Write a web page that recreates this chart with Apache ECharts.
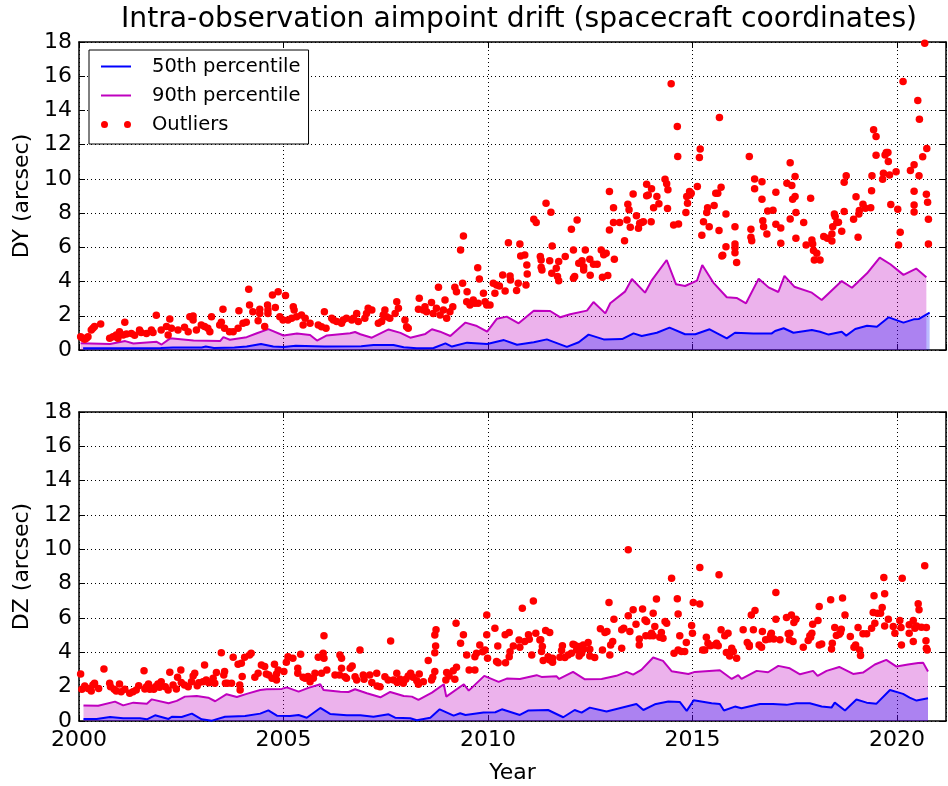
<!DOCTYPE html>
<html>
<head>
<meta charset="utf-8">
<title>Intra-observation aimpoint drift</title>
<script src="https://cdn.jsdelivr.net/npm/echarts@6/dist/echarts.min.js"></script>
<style>
  html, body { margin: 0; padding: 0; background: #ffffff; }
  #chart { width: 948px; height: 786px; }
</style>
</head>
<body>
<div id="chart"></div>
<script>
// Tick labels
const yearTicks = [2000, 2005, 2010, 2015, 2020];
const driftTicks = [0, 2, 4, 6, 8, 10, 12, 14, 16, 18];

// DY: percentiles of the drift per time bin, [decimal year, arcsec]
const dyP50 = [
  [2000.1,0.1],[2001.0,0.1],[2002.0,0.12],[2002.3,0.15],[2003.0,0.15],[2003.1,0.2],[2003.3,0.12],[2003.8,0.15],
  [2004.1,0.2],[2004.45,0.35],[2004.75,0.2],[2005.0,0.18],[2005.3,0.25],[2006.0,0.2],[2006.9,0.22],[2007.2,0.29],
  [2007.69,0.29],[2007.94,0.16],[2008.26,0.1],[2008.67,0.12],[2008.96,0.39],[2009.12,0.2],[2009.49,0.43],[2009.98,0.35],
  [2010.39,0.58],[2010.71,0.31],[2011.12,0.45],[2011.44,0.62],[2011.93,0.18],[2012.22,0.45],[2012.46,0.9],[2012.83,0.62],
  [2013.28,0.64],[2013.56,0.97],[2013.76,0.82],[2014.13,1.01],[2014.44,1.31],[2014.82,0.92],[2015.07,0.92],[2015.42,1.21],
  [2015.84,0.68],[2016.04,1.01],[2016.49,0.96],[2016.94,0.97],[2017.02,1.11],[2017.23,1.27],[2017.47,1.01],[2017.92,1.17],
  [2018.12,1.07],[2018.33,0.9],[2018.65,1.07],[2018.76,0.84],[2018.98,1.23],[2019.27,1.42],[2019.51,1.36],[2019.8,1.91],
  [2020.16,1.6],[2020.41,1.79],[2020.53,1.81],[2020.8,2.18]
];
const dyP90 = [
  [2000.04,0.4],[2000.76,0.35],[2001.13,0.52],[2001.33,0.38],[2001.9,0.48],[2002.02,0.32],[2002.23,0.68],[2002.8,0.55],
  [2003.45,0.52],[2003.53,0.75],[2003.69,0.6],[2004.1,0.75],[2004.35,0.98],[2004.63,1.22],[2005.0,0.85],[2005.33,0.97],
  [2005.65,0.88],[2005.82,0.55],[2006.06,0.85],[2006.63,0.98],[2006.75,1.05],[2006.88,0.92],[2007.16,0.72],[2007.57,1.2],
  [2007.86,1.0],[2008.1,0.72],[2008.47,0.94],[2008.63,1.21],[2008.83,1.07],[2009.08,0.82],[2009.45,1.6],[2009.73,1.4],
  [2009.98,1.07],[2010.22,1.83],[2010.46,1.95],[2010.75,1.56],[2011.12,2.3],[2011.52,2.28],[2011.77,1.91],[2012.01,2.09],
  [2012.42,2.3],[2012.58,2.8],[2012.87,2.14],[2012.99,2.73],[2013.35,3.41],[2013.52,4.15],[2013.84,3.35],[2014.0,4.05],
  [2014.37,5.26],[2014.6,3.84],[2014.82,3.74],[2015.11,4.05],[2015.24,4.97],[2015.51,3.94],[2015.84,3.08],[2016.08,3.04],
  [2016.31,2.73],[2016.62,4.17],[2016.86,3.66],[2017.1,3.39],[2017.25,4.33],[2017.49,3.7],[2017.92,3.35],[2018.16,2.92],
  [2018.65,4.03],[2018.9,3.64],[2019.27,4.48],[2019.58,5.4],[2019.84,5.01],[2020.16,4.39],[2020.47,4.76],[2020.72,4.25]
];
const dyOutliers = [
  [2000.04,0.78],[2000.10,0.68],[2000.14,0.63],[2000.18,0.68],[2000.22,0.78],[2000.30,1.17],[2000.34,1.27],[2000.38,1.37],
  [2000.53,1.52],[2000.75,0.68],[2000.83,0.78],[2000.91,0.88],[2000.95,0.68],[2000.99,1.07],[2001.08,0.88],[2001.12,1.62],
  [2001.16,0.94],[2001.28,0.97],[2001.36,0.86],[2001.48,1.17],[2001.52,1.02],[2001.65,0.97],[2001.77,1.17],[2001.81,1.02],
  [2001.89,2.03],[2002.01,1.17],[2002.14,1.37],[2002.18,0.88],[2002.22,1.81],[2002.26,1.27],[2002.42,1.17],[2002.58,1.33],
  [2002.67,1.07],[2002.71,1.95],[2002.79,1.99],[2002.79,1.75],[2002.87,1.17],[2002.99,1.46],[2003.07,1.37],[2003.15,1.27],
  [2003.20,1.07],[2003.24,1.95],[2003.44,1.46],[2003.48,1.62],[2003.52,2.38],[2003.56,1.27],[2003.68,1.07],[2003.77,1.07],
  [2003.89,1.27],[2003.91,2.30],[2004.01,1.56],[2004.09,1.62],[2004.15,3.55],[2004.17,2.63],[2004.25,2.24],[2004.38,1.71],
  [2004.42,2.38],[2004.42,2.14],[2004.54,1.37],[2004.61,2.63],[2004.62,2.34],[2004.62,2.14],[2004.73,3.22],[2004.80,2.49],
  [2004.87,3.41],[2004.91,1.95],[2004.99,1.75],[2005.05,3.18],[2005.11,1.75],
  [2005.20,1.85],[2005.24,2.53],[2005.26,2.34],[2005.32,1.95],[2005.44,2.05],[2005.48,1.46],[2005.53,1.85],[2005.65,1.56],
  [2005.85,1.46],[2005.93,1.36],[2006.00,2.24],[2006.04,1.27],[2006.18,1.85],[2006.22,1.75],[2006.30,1.66],[2006.42,1.56],
  [2006.46,1.75],[2006.54,1.85],[2006.67,1.75],[2006.71,1.85],[2006.79,2.14],[2006.83,1.66],[2006.99,1.85],[2007.03,2.14],
  [2007.07,2.44],[2007.16,2.34],[2007.32,1.56],[2007.40,1.66],[2007.44,2.05],[2007.48,2.34],[2007.52,1.95],[2007.60,1.85],
  [2007.73,2.14],[2007.77,2.82],[2007.81,2.44],[2007.97,1.75],[2008.01,1.36],[2008.05,1.27],[2008.30,2.38],[2008.32,3.02],
  [2008.42,2.34],[2008.46,2.53],[2008.50,2.24],[2008.62,2.77],[2008.66,2.14],[2008.74,2.44],[2008.79,3.66],[2008.83,2.05],
  [2008.91,2.34],[2008.95,2.92],[2008.99,1.85],[2009.07,2.24],[2009.14,2.53],[2009.19,3.66],[2009.23,3.41],[2009.33,5.84],
  [2009.38,3.90],[2009.40,6.66],[2009.48,2.82],[2009.49,3.41],[2009.56,2.63],[2009.64,2.92],[2009.68,2.73],[2009.75,4.81],
  [2009.76,2.73],[2009.79,4.15],[2009.89,3.31],[2009.93,2.82],[2009.97,2.63],[2010.05,2.63],[2010.13,3.90],[2010.17,3.31],
  [2010.21,3.80],[2010.28,3.74],[2010.36,4.38],[2010.42,3.45],[2010.50,6.27],[2010.54,4.32],[2010.55,4.09],[2010.70,3.47],
  [2010.74,3.90],[2010.78,6.20],[2010.80,5.49],[2010.90,5.55],[2010.95,4.97],[2010.96,4.44],[2010.93,3.80],
  [2011.12,7.64],[2011.18,7.45],[2011.28,5.46],[2011.30,5.26],[2011.30,4.83],[2011.32,4.68],[2011.42,8.58],[2011.51,5.22],
  [2011.54,8.05],[2011.57,6.08],[2011.56,4.48],[2011.67,4.78],[2011.70,4.29],[2011.73,4.05],[2011.73,5.17],[2011.89,5.46],
  [2012.04,7.06],[2012.09,5.85],[2012.12,4.29],[2012.09,4.19],[2012.18,7.60],[2012.22,5.07],[2012.30,5.22],[2012.34,4.87],
  [2012.38,5.85],[2012.34,4.68],[2012.49,5.30],[2012.50,4.37],[2012.58,5.01],[2012.67,5.01],[2012.77,5.85],[2012.80,4.25],
  [2012.83,5.56],[2012.89,5.65],[2012.93,4.35],[2012.97,7.02],[2012.97,9.26],[2013.07,8.32],[2013.07,7.45],[2013.09,5.30],
  [2013.22,7.45],[2013.34,6.39],[2013.40,7.60],[2013.42,8.52],[2013.45,8.19],[2013.48,7.17],[2013.55,9.12],[2013.63,7.84],
  [2013.68,7.12],[2013.71,7.41],[2013.76,7.45],[2013.80,7.50],
  [2013.88,9.69],[2013.88,9.01],[2013.92,9.06],[2013.99,7.50],[2014.00,9.43],[2014.05,8.32],[2014.13,8.97],[2014.18,8.54],
  [2014.33,9.98],[2014.37,9.71],[2014.40,9.36],[2014.39,8.27],[2014.48,15.56],[2014.54,7.31],[2014.63,13.06],[2014.66,7.37],
  [2014.64,11.31],[2014.84,8.03],[2014.86,8.97],[2014.88,8.58],[2014.93,9.26],[2014.94,9.06],[2014.97,9.16],[2015.12,9.55],
  [2015.17,11.25],[2015.19,11.75],[2015.23,6.71],[2015.27,7.50],[2015.35,8.03],[2015.37,8.32],[2015.41,7.21],[2015.53,8.44],
  [2015.57,9.16],[2015.62,9.16],[2015.65,6.98],[2015.66,13.59],[2015.70,9.51],[2015.72,5.50],[2015.74,5.54],[2015.82,7.95],
  [2015.82,6.04],[2016.04,7.21],[2016.04,6.20],[2016.04,5.98],[2016.04,5.69],[2016.08,5.11],[2016.39,11.31],[2016.43,7.06],
  [2016.43,6.59],[2016.45,6.39],[2016.52,10.0],[2016.52,9.43],[2016.70,9.84],[2016.70,8.81],[2016.72,7.56],[2016.74,7.21],
  [2016.82,6.78],[2016.84,8.13],[2016.97,8.17],[2017.04,9.22],[2017.04,7.35],[2017.16,7.13],[2017.16,6.24],[2017.31,9.75],
  [2017.39,7.66],[2017.39,10.94],[2017.43,9.61],[2017.45,8.81],[2017.51,8.97],[2017.51,10.14],[2017.53,8.03],[2017.53,6.53],
  [2017.72,7.45],[2017.78,6.14],[2017.89,8.87],[2017.92,6.43],[2017.94,6.20],[2017.96,5.81],[2017.98,5.26],[2018.04,5.65],
  [2018.12,5.26],[2018.21,6.63],[2018.30,6.53],[2018.41,6.37],[2018.41,6.78],[2018.43,7.21],[2018.47,7.95],[2018.49,7.80],
  [2018.53,7.45],[2018.57,7.47],[2018.65,6.94],[2018.71,9.81],[2018.71,8.09],[2018.76,10.18],[2018.94,7.64],[2019.00,8.95],
  [2019.05,6.59],[2019.07,7.95],[2019.08,8.15],[2019.17,8.52],[2019.23,8.28],[2019.36,8.32],[2019.38,9.30],[2019.39,10.19],
  [2019.43,12.87],[2019.49,12.48],[2019.49,11.38],[2019.65,9.98],[2019.67,10.33],[2019.71,11.40],[2019.74,11.54],[2019.78,11.54],
  [2019.79,11.01],[2019.82,10.23],[2019.85,8.50],[2019.98,10.41],[2020.02,8.23],[2020.04,6.14],[2020.08,6.88],[2020.15,15.69],
  [2020.33,10.49],[2020.42,10.82],[2020.42,9.28],[2020.42,8.48],[2020.42,8.07],[2020.51,14.58],[2020.54,10.18],[2020.55,13.49],
  [2020.63,11.29],[2020.68,17.93],[2020.72,9.10],[2020.73,11.77],[2020.75,8.64],[2020.77,7.64],[2020.77,6.20]
];

// DZ: percentiles of the drift per time bin, [decimal year, arcsec]
const dzP50 = [
  [2000.11,0.12],[2000.43,0.12],[2000.76,0.23],[2001.08,0.16],[2001.49,0.16],[2001.66,0.1],[2001.86,0.33],[2002.19,0.12],
  [2002.27,0.25],[2002.51,0.23],[2002.76,0.43],[2003.0,0.1],[2003.25,0.02],[2003.57,0.25],[2004.06,0.29],[2004.43,0.43],
  [2004.63,0.62],[2004.84,0.31],[2005.16,0.29],[2005.37,0.35],[2005.57,0.19],[2005.9,0.76],[2006.14,0.41],[2006.55,0.33],
  [2006.88,0.33],[2007.2,0.25],[2007.57,0.39],[2007.73,0.19],[2008.1,0.16],[2008.26,0.04],[2008.59,0.19],[2008.82,0.68],
  [2009.16,0.31],[2009.32,0.45],[2009.45,0.35],[2009.89,0.49],[2010.18,0.51],[2010.34,0.68],[2010.78,0.35],[2010.98,0.61],
  [2011.47,0.64],[2011.84,0.22],[2012.12,0.64],[2012.29,0.49],[2012.49,0.78],[2012.9,0.55],[2013.63,0.99],[2013.8,0.64],
  [2014.08,0.97],[2014.41,1.13],[2014.69,1.11],[2014.86,0.59],[2015.03,1.21],[2015.47,1.03],[2015.67,0.99],[2015.77,0.61],
  [2016.04,0.84],[2016.2,0.74],[2016.65,0.99],[2016.97,0.99],[2017.3,0.94],[2017.54,1.03],[2017.87,1.03],[2018.16,0.84],
  [2018.4,0.78],[2018.48,1.07],[2018.73,0.61],[2019.01,1.25],[2019.26,1.07],[2019.5,1.01],[2019.83,1.81],[2020.15,1.58],
  [2020.31,1.36],[2020.48,1.19],[2020.76,1.33]
];
const dzP90 = [
  [2000.11,0.91],[2000.47,0.89],[2000.88,1.13],[2001.08,0.91],[2001.33,1.07],[2001.66,1.01],[2001.78,1.26],[2002.19,1.03],
  [2002.39,1.17],[2002.59,1.42],[2002.88,1.46],[2003.16,1.36],[2003.33,1.15],[2003.61,1.56],[2003.86,1.4],[2004.1,1.58],
  [2004.43,1.81],[2004.59,1.85],[2004.96,1.87],[2005.08,1.96],[2005.37,1.71],[2005.61,1.93],[2005.9,2.14],[2005.98,1.81],
  [2006.39,1.71],[2006.59,1.69],[2006.75,1.85],[2007.04,1.62],[2007.37,1.38],[2007.61,1.69],[2007.94,1.46],[2008.14,1.42],
  [2008.3,1.23],[2008.63,1.65],[2008.92,2.14],[2008.98,1.42],[2009.41,2.14],[2009.53,1.77],[2009.91,2.63],[2010.26,2.28],
  [2010.46,2.47],[2010.78,2.45],[2011.19,2.67],[2011.31,2.57],[2011.68,2.6],[2011.74,2.45],[2012.08,2.86],[2012.37,2.43],
  [2012.78,2.45],[2013.14,2.63],[2013.39,2.86],[2013.55,2.7],[2013.75,2.98],[2014.04,3.7],[2014.28,3.5],[2014.49,2.9],
  [2014.9,2.74],[2015.06,2.86],[2015.67,2.96],[2015.96,2.45],[2016.12,2.67],[2016.2,2.45],[2016.57,2.92],[2016.85,2.84],
  [2017.1,3.21],[2017.38,3.07],[2017.63,2.72],[2017.95,2.92],[2018.06,2.63],[2018.28,2.92],[2018.59,3.15],[2018.93,2.74],
  [2019.17,2.82],[2019.46,3.29],[2019.74,3.56],[2019.99,3.17],[2020.27,3.29],[2020.52,3.38],[2020.64,3.4],[2020.76,2.88]
];
const dzOutliers = [
  [2000.04,2.74],[2000.07,1.85],[2000.14,2.04],[2000.22,1.90],[2000.30,1.75],[2000.34,2.10],[2000.38,2.20],[2000.48,1.90],
  [2000.61,3.03],[2000.75,2.20],[2000.77,2.00],[2000.86,1.85],[2000.91,1.75],[2000.99,2.16],[2001.03,1.71],[2001.12,1.85],
  [2001.24,1.61],[2001.32,1.71],[2001.40,1.81],[2001.46,2.06],[2001.59,2.93],[2001.61,1.87],[2001.65,2.00],[2001.70,2.16],
  [2001.73,1.85],[2001.83,1.85],[2001.87,2.00],[2001.93,2.16],[2001.97,1.96],[2002.01,2.29],[2002.11,2.00],[2002.18,1.81],
  [2002.22,2.84],[2002.30,2.10],[2002.38,1.87],[2002.41,2.55],[2002.49,2.97],[2002.50,2.25],[2002.58,2.10],[2002.67,2.00],
  [2002.75,2.29],[2002.79,2.62],[2002.83,2.78],[2002.89,2.06],[2002.93,2.23],[2003.03,2.29],[2003.07,3.26],[2003.11,2.39],
  [2003.17,2.23],[2003.24,2.29],[2003.28,2.49],[2003.32,2.20],[2003.36,2.82],[2003.48,3.98],[2003.54,2.68],[2003.56,2.88],
  [2003.58,2.20],[2003.63,2.20],[2003.73,2.20],[2003.77,3.71],[2003.89,3.30],[2003.93,2.10],[2003.94,1.81],[2003.97,3.36],
  [2003.99,2.59],[2004.05,3.71],[2004.17,3.85],[2004.21,3.95],[2004.30,2.55],[2004.38,2.78],[2004.46,3.26],[2004.54,3.17],
  [2004.58,2.74],[2004.64,2.68],[2004.72,2.49],[2004.78,3.30],[2004.83,2.74],[2004.83,2.39],[2004.87,2.97],[2005.01,2.88],
  [2005.07,3.42],[2005.11,3.75],[2005.23,3.65],[2005.35,3.07],[2005.35,2.78],[2005.42,3.89],[2005.48,2.55],[2005.53,2.49],
  [2005.60,2.59],
  [2005.65,2.29],[2005.73,2.49],[2005.77,2.78],[2005.85,3.71],[2005.93,2.78],[2005.97,3.95],[2005.99,3.65],[2005.99,4.96],
  [2006.06,2.97],[2006.26,2.68],[2006.37,2.68],[2006.38,3.85],[2006.42,3.65],[2006.42,3.07],[2006.50,2.58],[2006.54,2.49],
  [2006.63,3.07],[2006.68,3.20],[2006.75,2.58],[2006.79,2.39],[2006.87,4.14],[2006.95,2.68],[2006.97,2.43],[2007.11,2.68],
  [2007.16,2.24],[2007.28,2.78],[2007.29,2.04],[2007.36,2.00],[2007.48,2.58],[2007.56,2.39],[2007.62,4.66],[2007.69,2.39],
  [2007.77,2.78],[2007.78,2.24],[2007.85,2.43],[2007.93,2.20],[2007.99,2.43],[2008.05,2.62],[2008.11,2.78],[2008.17,2.55],
  [2008.26,2.35],[2008.30,2.14],[2008.32,2.74],[2008.42,2.29],[2008.54,3.52],[2008.62,2.39],[2008.65,2.55],[2008.70,2.88],
  [2008.70,3.98],[2008.72,4.37],[2008.70,5.01],[2008.73,5.31],[2008.97,2.39],[2008.99,2.82],[2009.05,2.62],[2009.15,2.93],
  [2009.19,2.43],[2009.22,5.69],[2009.23,3.13],[2009.33,4.53],[2009.40,5.02],[2009.48,3.85],[2009.54,2.97],[2009.68,2.97],
  [2009.68,3.75],[2009.72,3.95],[2009.80,4.43],[2009.87,4.04],[2009.93,4.14],[2009.97,6.18],[2009.97,5.02],[2009.99,3.65],
  [2010.17,5.40],[2010.24,4.37],[2010.21,3.46],[2010.25,3.40],[2010.43,3.40],[2010.42,5.02],[2010.52,5.15],[2010.52,3.75],
  [2010.54,4.04],[2010.62,4.37],[2010.76,4.72],[2010.78,4.30],[2010.84,6.57],[2010.90,4.63],[2010.99,5.02],[2011.01,4.76],
  [2011.07,3.85],[2011.11,6.99],[2011.17,5.11],[2011.27,4.72],
  [2011.29,4.73],[2011.31,4.05],[2011.33,4.34],[2011.35,3.52],[2011.41,5.27],[2011.47,3.75],[2011.51,5.15],[2011.51,3.56],
  [2011.58,3.66],[2011.58,3.42],[2011.76,3.72],[2011.80,4.10],[2011.82,4.38],[2011.88,3.70],[2011.96,3.85],[2012.04,3.95],
  [2012.08,4.47],[2012.12,4.43],[2012.17,4.14],[2012.23,3.79],[2012.23,4.34],[2012.29,3.95],[2012.33,4.43],[2012.34,4.18],
  [2012.45,4.57],[2012.49,4.18],[2012.49,3.79],[2012.61,3.70],[2012.75,5.37],[2012.80,4.14],[2012.86,5.15],[2012.91,5.21],
  [2012.96,6.90],[2012.98,3.85],[2013.00,4.43],[2013.05,4.63],[2013.08,5.93],[2013.27,4.24],[2013.27,5.31],[2013.32,5.41],
  [2013.43,9.98],[2013.43,6.13],[2013.47,5.21],[2013.55,6.48],[2013.62,5.64],[2013.70,4.77],[2013.70,4.43],[2013.78,6.53],
  [2013.84,5.89],[2013.86,4.96],[2013.88,5.79],[2013.96,4.96],[2014.00,5.11],[2014.04,6.28],[2014.04,4.96],[2014.08,5.50],
  [2014.12,7.10],[2014.20,4.88],[2014.24,5.15],[2014.28,4.82],[2014.33,5.79],[2014.37,5.70],[2014.49,8.32],[2014.55,3.95],
  [2014.63,7.12],[2014.65,6.24],[2014.65,4.14],[2014.69,4.96],[2014.73,4.05],[2014.81,4.05],[2014.85,4.57],[2014.98,5.56],
  [2015.00,5.11],[2015.02,6.90],[2015.18,6.81],[2015.18,8.94],[2015.25,4.14],[2015.30,4.14],[2015.34,4.88],[2015.38,4.53],
  [2015.44,4.38],[2015.55,4.43],[2015.59,4.53],[2015.63,4.38],[2015.65,8.52],[2015.70,5.31],[2015.79,4.96],[2015.83,3.99],
  [2015.87,5.11],[2015.91,3.79],[2015.96,4.24],[2016.00,4.05],[2016.08,3.66],[2016.24,5.31],[2016.34,4.57],[2016.39,4.43],
  [2016.39,4.34],[2016.44,6.18],[2016.49,5.31],[2016.53,6.44],[2016.63,4.43],[2016.69,4.30],[2016.71,5.21],[2016.79,4.73],
  [2016.88,4.77],[2016.91,5.00],[2016.93,5.11],[2016.99,4.77],[2017.04,7.49],[2017.04,5.93],[2017.14,4.73],[2017.30,6.03],
  [2017.34,5.08],[2017.37,4.73],[2017.38,5.11],[2017.42,6.18],[2017.46,4.63],[2017.48,5.74],[2017.53,5.93],[2017.71,4.30],
  [2017.83,4.69],[2017.87,4.96],[2017.89,4.88],[2017.92,5.11],[2017.94,5.64],[2018.07,5.85],[2018.10,6.67],[2018.10,4.43],
  [2018.16,4.49],[2018.38,7.06],[2018.40,4.20],[2018.42,4.53],[2018.48,5.45],[2018.52,4.98],[2018.59,5.06],[2018.62,5.15],
  [2018.64,5.35],[2018.67,7.16],[2018.73,6.18],[2018.86,4.92],[2018.95,4.30],[2018.99,4.42],[2019.05,5.45],[2019.09,4.14],
  [2019.11,3.81],[2019.17,5.08],[2019.26,5.08],[2019.38,5.41],[2019.42,6.32],[2019.44,7.29],[2019.46,5.70],[2019.52,6.28],
  [2019.60,6.28],[2019.64,6.61],[2019.68,8.36],[2019.70,5.54],[2019.70,7.41],[2019.79,5.93],[2019.91,5.50],[2019.95,5.11],
  [2020.07,5.85],[2020.10,5.45],[2020.11,4.43],[2020.13,8.32],[2020.30,5.11],[2020.30,5.60],[2020.40,4.63],[2020.40,5.85],
  [2020.44,5.41],[2020.48,5.54],[2020.52,6.83],[2020.54,6.48],[2020.60,5.46],[2020.68,9.04],[2020.71,4.67],[2020.72,5.45],
  [2020.72,4.24],[2020.74,4.14]
];

const FONT = 'DejaVu Sans';
const X_MIN = 2000, X_MAX = 2021.2;
const DOTTED = [1, 3];
const LINE_ICON = 'path://M0,0H30V2H0Z';
const DOTS_ICON = 'path://M0,3.5a3.5,3.5 0 1,0 7,0a3.5,3.5 0 1,0 -7,0ZM23,3.5a3.5,3.5 0 1,0 7,0a3.5,3.5 0 1,0 -7,0Z';

function xAxisMain(gridIndex, showLabels, name) {
  return {
    type: 'value', gridIndex: gridIndex, position: 'bottom',
    min: X_MIN, max: X_MAX, interval: 5,
    name: name || '', nameLocation: 'middle', nameGap: 41,
    nameTextStyle: { fontFamily: FONT, fontSize: 22, color: '#000' },
    axisLine: { show: true, onZero: false, lineStyle: { color: '#000', width: 1.5 } },
    axisTick: { show: true, inside: true, length: 6, lineStyle: { color: '#000', width: 1 } },
    axisLabel: {
      show: showLabels, margin: 8, fontFamily: FONT, fontSize: 22, color: '#000',
      showMaxLabel: false,
      formatter: function (v) { return yearTicks.indexOf(v) >= 0 ? String(v) : ''; }
    },
    splitLine: { show: true, lineStyle: { color: '#000', type: DOTTED, width: 1 } }
  };
}
function xAxisTop(gridIndex) {
  return {
    type: 'value', gridIndex: gridIndex, position: 'top',
    min: X_MIN, max: X_MAX, interval: 5,
    axisLine: { show: true, onZero: false, lineStyle: { color: '#000', width: 1.5 } },
    axisTick: { show: true, inside: true, length: 6, lineStyle: { color: '#000', width: 1 } },
    axisLabel: { show: false }, splitLine: { show: false }
  };
}
function yAxisMain(gridIndex, name) {
  return {
    type: 'value', gridIndex: gridIndex, position: 'left',
    min: 0, max: 18, interval: 2,
    name: name, nameLocation: 'middle', nameGap: 38, nameRotate: 90,
    nameTextStyle: { fontFamily: FONT, fontSize: 22, color: '#000' },
    axisLine: { show: true, onZero: false, lineStyle: { color: '#000', width: 1.5 } },
    axisTick: { show: true, inside: true, length: 6, lineStyle: { color: '#000', width: 1 } },
    axisLabel: {
      show: true, margin: 7, fontFamily: FONT, fontSize: 22, color: '#000',
      formatter: function (v) { return driftTicks.indexOf(v) >= 0 ? String(v) : ''; }
    },
    splitLine: { show: true, lineStyle: { color: '#000', type: DOTTED, width: 1 } }
  };
}
function yAxisRight(gridIndex) {
  return {
    type: 'value', gridIndex: gridIndex, position: 'right',
    min: 0, max: 18, interval: 2,
    axisLine: { show: true, onZero: false, lineStyle: { color: '#000', width: 1.5 } },
    axisTick: { show: true, inside: true, length: 6, lineStyle: { color: '#000', width: 1 } },
    axisLabel: { show: false }, splitLine: { show: false }
  };
}

function panelSeries(axisIndex, p50, p90, outliers) {
  return [
    {
      type: 'line', name: '90th percentile', xAxisIndex: axisIndex, yAxisIndex: axisIndex,
      data: p90, symbol: 'none', showSymbol: false, z: 2,
      lineStyle: { color: '#bf00bf', width: 2 }, itemStyle: { color: '#bf00bf' },
      areaStyle: { color: 'rgba(191,0,191,0.3)', opacity: 1 }
    },
    {
      type: 'line', name: '50th percentile', xAxisIndex: axisIndex, yAxisIndex: axisIndex,
      data: p50, symbol: 'none', showSymbol: false, z: 3,
      lineStyle: { color: '#0000ff', width: 2 }, itemStyle: { color: '#0000ff' },
      areaStyle: { color: 'rgba(0,0,255,0.27)', opacity: 1 }
    },
    {
      type: 'scatter', name: 'Outliers', xAxisIndex: axisIndex, yAxisIndex: axisIndex,
      data: outliers, symbol: 'circle', symbolSize: 7.5, z: 4,
      itemStyle: { color: '#ff0000', borderWidth: 0, opacity: 1 }
    }
  ];
}

const chart = echarts.init(document.getElementById('chart'), null, { renderer: 'canvas' });
chart.setOption({
  animation: false,
  backgroundColor: '#ffffff',
  title: {
    text: 'Intra-observation aimpoint drift (spacecraft coordinates)',
    left: 121, top: 6, padding: 0,
    textStyle: { fontFamily: FONT, fontSize: 28.2, fontWeight: 'normal', color: '#000' }
  },
  legend: {
    left: 89, top: 50, orient: 'vertical', selectedMode: false,
    backgroundColor: '#ffffff', borderColor: '#000', borderWidth: 1, borderRadius: 0,
    padding: [5, 8, 8, 12], itemGap: 6, itemWidth: 30, itemHeight: 14,
    textStyle: { fontFamily: FONT, fontSize: 19.5, color: '#000', lineHeight: 23, padding: [0, 0, 0, 16] },
    data: [
      { name: '50th percentile', icon: LINE_ICON },
      { name: '90th percentile', icon: LINE_ICON },
      { name: 'Outliers', icon: DOTS_ICON }
    ]
  },
  grid: [
    { left: 79, top: 42, width: 867, height: 308, show: false, outerBoundsMode: 'none' },
    { left: 79, top: 412, width: 867, height: 309, show: false, outerBoundsMode: 'none' }
  ],
  xAxis: [xAxisMain(0, false), xAxisMain(1, true, 'Year'), xAxisTop(0), xAxisTop(1)],
  yAxis: [yAxisMain(0, 'DY (arcsec)'), yAxisMain(1, 'DZ (arcsec)'), yAxisRight(0), yAxisRight(1)],
  series: [].concat(
    panelSeries(0, dyP50, dyP90, dyOutliers),
    panelSeries(1, dzP50, dzP90, dzOutliers)
  )
});
</script>
</body>
</html>
